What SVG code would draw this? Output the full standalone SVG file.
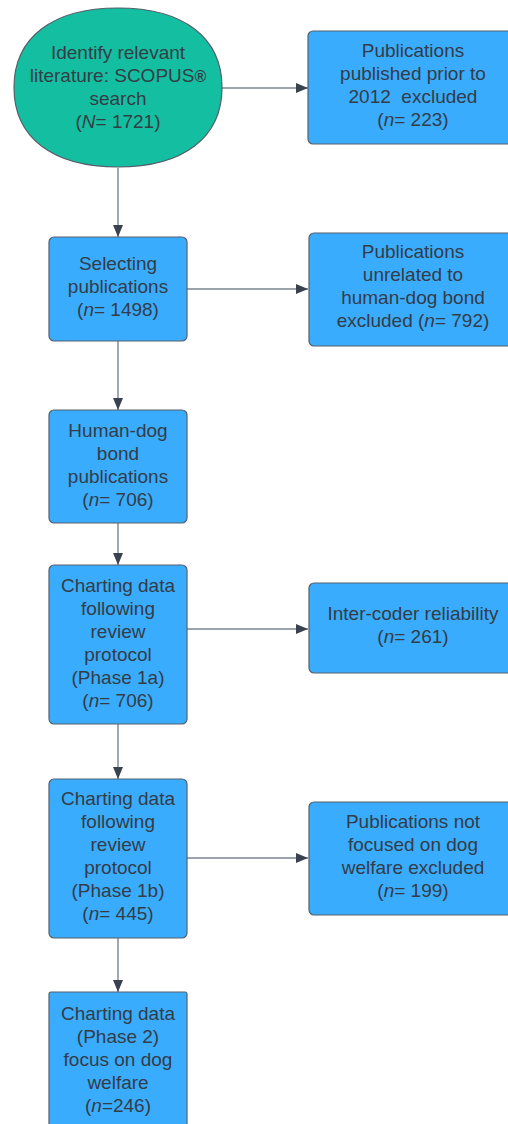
<svg xmlns="http://www.w3.org/2000/svg" width="508" height="1124" viewBox="0 0 508 1124">
<defs>
<marker id="ah" viewBox="0 0 12 10" refX="12" refY="5" markerWidth="12" markerHeight="10" markerUnits="userSpaceOnUse" orient="auto">
<path d="M0,0 L12,5 L0,10 Z" fill="#3a4250"/>
</marker>
<style>
.box{fill:#3aacfd;stroke:#55606c;stroke-width:1.2}
.ell{fill:#13bfa0;stroke:#55606c;stroke-width:1.2}
.t{font-family:"Liberation Sans",Arial,sans-serif;font-size:19px;fill:#333c47;text-anchor:middle}
.c{stroke:#7d8590;stroke-width:1.4;fill:none;marker-end:url(#ah)}
</style>
</defs>
<rect width="508" height="1124" fill="#ffffff"/>
<g id="connectors">
<path class="c" d="M222,88 L308,88"/>
<path class="c" d="M118,168 L118,237"/>
<path class="c" d="M187,289 L308,289"/>
<path class="c" d="M118,341 L118,410"/>
<path class="c" d="M118,523 L118,565"/>
<path class="c" d="M187,629 L308,629"/>
<path class="c" d="M118,724 L118,779"/>
<path class="c" d="M187,858 L308,858"/>
<path class="c" d="M118,938 L118,992"/>
</g>
<g id="n-identify">
<path class="ell" d="M118,8 C183.5,8 222,37.4 222,87.5 C222,137.6 183.5,167 118,167 C52.5,167 14,137.6 14,87.5 C14,37.4 52.5,8 118,8 Z"/>
<text class="t" x="118" y="59">Identify relevant</text>
<text class="t" x="118" y="82">literature: SCOPUS<tspan font-size="16" font-weight="bold">®</tspan></text>
<text class="t" x="118" y="105">search</text>
<text class="t" x="118" y="128">(<tspan font-style="italic">N</tspan>= 1721)</text>
</g>
<g id="n-prior2012">
<rect class="box" x="308" y="31" width="210" height="113" rx="5"/>
<text class="t" x="413" y="57">Publications</text>
<text class="t" x="413" y="80">published prior to</text>
<text class="t" x="413" y="103" xml:space="preserve">2012  excluded</text>
<text class="t" x="413" y="126">(<tspan font-style="italic">n</tspan>= 223)</text>
</g>
<g id="n-selecting">
<rect class="box" x="49" y="237" width="138" height="104" rx="5"/>
<text class="t" x="118" y="270">Selecting</text>
<text class="t" x="118" y="293">publications</text>
<text class="t" x="118" y="316">(<tspan font-style="italic">n</tspan>= 1498)</text>
</g>
<g id="n-unrelated">
<rect class="box" x="309" y="233" width="210" height="113" rx="5"/>
<text class="t" x="413" y="258">Publications</text>
<text class="t" x="413" y="281">unrelated to</text>
<text class="t" x="413" y="304">human-dog bond</text>
<text class="t" x="413" y="327">excluded (<tspan font-style="italic">n</tspan>= 792)</text>
</g>
<g id="n-humandog">
<rect class="box" x="49" y="410" width="138" height="113" rx="5"/>
<text class="t" x="118" y="437">Human-dog</text>
<text class="t" x="118" y="460">bond</text>
<text class="t" x="118" y="483">publications</text>
<text class="t" x="118" y="506">(<tspan font-style="italic">n</tspan>= 706)</text>
</g>
<g id="n-phase1a">
<rect class="box" x="49" y="565" width="138" height="159" rx="5"/>
<text class="t" x="118" y="592">Charting data</text>
<text class="t" x="118" y="615">following</text>
<text class="t" x="118" y="638">review</text>
<text class="t" x="118" y="661">protocol</text>
<text class="t" x="118" y="684">(Phase 1a)</text>
<text class="t" x="118" y="707">(<tspan font-style="italic">n</tspan>= 706)</text>
</g>
<g id="n-intercoder">
<rect class="box" x="309" y="583" width="210" height="90" rx="5"/>
<text class="t" x="413" y="620">Inter-coder reliability</text>
<text class="t" x="413" y="643">(<tspan font-style="italic">n</tspan>= 261)</text>
</g>
<g id="n-phase1b">
<rect class="box" x="49" y="779" width="138" height="159" rx="5"/>
<text class="t" x="118" y="805">Charting data</text>
<text class="t" x="118" y="828">following</text>
<text class="t" x="118" y="851">review</text>
<text class="t" x="118" y="874">protocol</text>
<text class="t" x="118" y="897">(Phase 1b)</text>
<text class="t" x="118" y="920">(<tspan font-style="italic">n</tspan>= 445)</text>
</g>
<g id="n-notwelfare">
<rect class="box" x="309" y="802" width="210" height="113" rx="5"/>
<text class="t" x="413" y="828">Publications not</text>
<text class="t" x="413" y="851">focused on dog</text>
<text class="t" x="413" y="874">welfare excluded</text>
<text class="t" x="413" y="897">(<tspan font-style="italic">n</tspan>= 199)</text>
</g>
<g id="n-phase2">
<rect class="box" x="49" y="992" width="138" height="140" rx="2"/>
<text class="t" x="118" y="1020">Charting data</text>
<text class="t" x="118" y="1043">(Phase 2)</text>
<text class="t" x="118" y="1066">focus on dog</text>
<text class="t" x="118" y="1089">welfare</text>
<text class="t" x="118" y="1112">(<tspan font-style="italic">n</tspan>=246)</text>
</g>
</svg>
